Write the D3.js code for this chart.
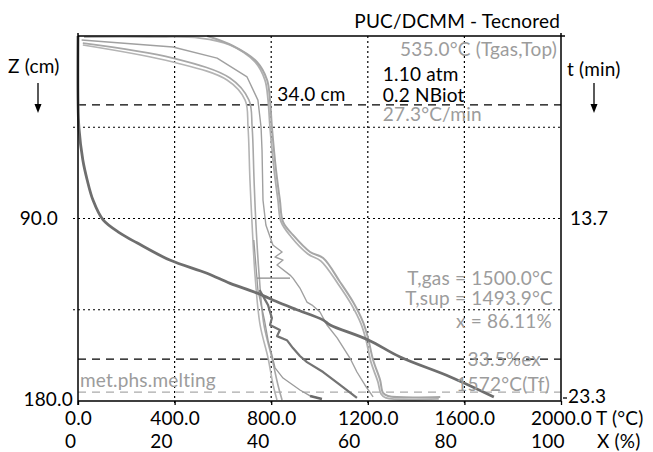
<!DOCTYPE html>
<html>
<head>
<meta charset="utf-8">
<script src="https://cdn.jsdelivr.net/npm/d3@7"></script>
<style>
body { margin: 0; background: #fff; }
svg { font-family: Lato, "Open Sans", sans-serif; }
.grid { stroke: #000; stroke-width: 1.2; stroke-dasharray: 2,3; fill: none; }
.dash { stroke: #000; stroke-width: 1.3; stroke-dasharray: 8,6; fill: none; }
.dash-gray { stroke: #aaa; stroke-width: 1.3; stroke-dasharray: 8,6; fill: none; }
.frame { stroke: #000; stroke-width: 1.5; fill: none; }
.lbl { font-size: 19px; fill: #000; letter-spacing: 0.2px; }
.lbl-gray { font-size: 19px; fill: #9c9c9c; letter-spacing: 0.2px; }
.axis text { font-size: 19px; fill: #000; font-family: Lato, "Open Sans", sans-serif; letter-spacing: 0.2px; }
.axis line { stroke: #000; stroke-width: 1.3; }
.axis .domain { display: none; }
</style>
</head>
<body>
<div id="chart"></div>
<script>

// ticks
var tempTicks = [0, 400, 800, 1200, 1600, 2000]
var convTicks = [0, 20, 40, 60, 80, 100]
var depthTicks = [90, 180]
var timeLabels = ['13.7', '23.3']
var gridDepths = [45, 90, 135]
var markDepths = [34.0, 159.3]
var meltDepth = 175.6

// temperature profiles, t in °C, z in cm
var gasProfile = [
  {t: 535, z: 0}, {t: 642, z: 4.9}, {t: 741, z: 12.8}, {t: 783, z: 21.7}, {t: 795, z: 31.6},
  {t: 803, z: 44.9}, {t: 820, z: 66.1}, {t: 836, z: 80.9}, {t: 849, z: 91.7}, {t: 890, z: 98.1},
  {t: 961, z: 106.5}, {t: 1015, z: 109.5}, {t: 1085, z: 121.3}, {t: 1139, z: 131.2}, {t: 1180, z: 141},
  {t: 1201, z: 149}, {t: 1222, z: 159.8}, {t: 1251, z: 169.7}, {t: 1263, z: 176}, {t: 1284, z: 177.5},
  {t: 1500, z: 178}
]
var supProfile = [
  {t: 25, z: 0.5}, {t: 298, z: 0.5}, {t: 505, z: 1}, {t: 629, z: 4.4}, {t: 733, z: 12.8},
  {t: 774, z: 21.7}, {t: 787, z: 31.6}, {t: 795, z: 44.9}, {t: 812, z: 66}, {t: 828, z: 81},
  {t: 841, z: 91.7}, {t: 882, z: 99}, {t: 952, z: 107.5}, {t: 1006, z: 111}, {t: 1077, z: 122.3},
  {t: 1130, z: 132}, {t: 1172, z: 142}, {t: 1193, z: 150}, {t: 1213, z: 160.8}, {t: 1242, z: 170.6},
  {t: 1255, z: 176.6}, {t: 1275, z: 178.5}, {t: 1494, z: 179}
]
var coreProfileA = [
  {t: 20, z: 4.4}, {t: 393, z: 12.8}, {t: 617, z: 21.7}, {t: 692, z: 31.6}, {t: 704, z: 44.9},
  {t: 712, z: 71}, {t: 721, z: 93.2}, {t: 733, z: 117.9}, {t: 754, z: 142.5}, {t: 787, z: 158.8},
  {t: 808, z: 172.1}, {t: 824, z: 179.5}
]
var coreProfileB = [
  {t: 20, z: 3.5}, {t: 393, z: 10.9}, {t: 629, z: 20.7}, {t: 708, z: 31.6}, {t: 721, z: 44.9},
  {t: 729, z: 71}, {t: 737, z: 93.2}, {t: 750, z: 117.9}, {t: 770, z: 142.5}, {t: 803, z: 158.8},
  {t: 828, z: 172.1}, {t: 845, z: 179.5}
]
var shellProfile = [
  {t: 15, z: 2}, {t: 393, z: 5.4}, {t: 576, z: 10.9}, {t: 700, z: 20.2}, {t: 745, z: 31.6},
  {t: 758, z: 44.9}, {t: 762, z: 56.2}, {t: 766, z: 80.9}, {t: 778, z: 93.2}, {t: 807, z: 103.1},
  {t: 845, z: 106.5}, {t: 816, z: 109}, {t: 849, z: 110.5}, {t: 824, z: 112.9}, {t: 878, z: 117.9},
  {t: 890, z: 119.4}, {t: 919, z: 124.3}, {t: 948, z: 131.2}, {t: 969, z: 132.7}, {t: 1002, z: 136.1},
  {t: 1031, z: 142.5}, {t: 1073, z: 148.9}, {t: 1126, z: 158.8}, {t: 1155, z: 165.7}, {t: 1188, z: 172.1},
  {t: 1222, z: 178}
]
var slagProfile = [
  {t: 752, z: 125.3}, {t: 787, z: 132.7}, {t: 803, z: 139.1}, {t: 795, z: 142.5},
  {t: 836, z: 145}, {t: 824, z: 148}, {t: 865, z: 150}, {t: 890, z: 153.9}, {t: 919, z: 157.8},
  {t: 948, z: 160.8}, {t: 1015, z: 165.7}, {t: 1085, z: 172.1}, {t: 1155, z: 178.5}
]
var metalProfile = [
  {t: 728, z: 100.6}, {t: 745, z: 125.3}, {t: 772, z: 140}, {t: 787, z: 150}, {t: 803, z: 157.3},
  {t: 816, z: 163.7}, {t: 849, z: 168.7}, {t: 919, z: 174.6}, {t: 961, z: 177.5}, {t: 1010, z: 179}
]
var metalTail = [{t: 961, z: 177.5}, {t: 1010, z: 179}]
var stepProfile = [{t: 741, z: 119.4}, {t: 878, z: 119.4}]

// conversion, x in %, z in cm
var conversion = [
  {x: 0, z: 0}, {x: 0, z: 31.6}, {x: 0.2, z: 45.4}, {x: 1, z: 61.2}, {x: 1.9, z: 71},
  {x: 3.1, z: 80.9}, {x: 5.2, z: 90.7}, {x: 8.7, z: 97.2}, {x: 12.2, z: 102}, {x: 19, z: 110.5},
  {x: 26.7, z: 117}, {x: 31.5, z: 122}, {x: 37, z: 126.7}, {x: 41.8, z: 131.7}, {x: 45.3, z: 135},
  {x: 50.7, z: 140}, {x: 52.2, z: 142.5}, {x: 60.2, z: 150}, {x: 66.7, z: 158.3}, {x: 77, z: 168},
  {x: 86.1, z: 178}
]

var Chart = function(opts) {
    this.element = opts.element
    this.width = 653
    this.height = 452
    this.margin = {left: 78, top: 36, right: 92, bottom: 51}
    this.draw()
}

Chart.prototype.draw = function() {
    var sel = d3.select(this.element)
    sel.html('')
    this.svg = sel.append('svg').attr('width', this.width).attr('height', this.height)
    this.createScales()
    this.addGrid()
    this.addLines()
    this.addFrame()
    this.addAxes()
    this.addLabels()
}

//////////
// Axes //
//////////
Chart.prototype.createScales = function() {
    var m = this.margin
    this.x0 = m.left
    this.x1 = this.width - m.right
    this.y0 = m.top
    this.y1 = this.height - m.bottom
    this.x = d3.scaleLinear().domain([0, 2000]).range([this.x0, this.x1])
    this.xc = d3.scaleLinear().domain([0, 100]).range([this.x0, this.x1])
    this.y = d3.scaleLinear().domain([0, 180]).range([this.y0, this.y1])
}

Chart.prototype.addGrid = function() {
    var self = this
    var svg = this.svg

    svg.selectAll('line.gx').data(tempTicks.slice(1, -1)).enter().append('line')
      .attr('class', 'grid')
      .attr('x1', function(d) { return self.x(d) }).attr('x2', function(d) { return self.x(d) })
      .attr('y1', self.y0).attr('y2', self.y1 + 4)

    svg.selectAll('line.gy').data(gridDepths).enter().append('line')
      .attr('class', 'grid')
      .attr('x1', self.x0 - 5).attr('x2', self.x1)
      .attr('y1', function(d) { return self.y(d) }).attr('y2', function(d) { return self.y(d) })

    svg.selectAll('line.mark').data(markDepths).enter().append('line')
      .attr('class', 'dash')
      .attr('x1', self.x0).attr('x2', self.x1)
      .attr('y1', function(d) { return self.y(d) }).attr('y2', function(d) { return self.y(d) })

    svg.append('line').attr('class', 'dash-gray')
      .attr('x1', self.x0).attr('x2', self.x1)
      .attr('y1', self.y(meltDepth)).attr('y2', self.y(meltDepth))
}

Chart.prototype.addLines = function() {
    var self = this
    var svg = this.svg
    var smooth = d3.line().x(function(d) { return self.x(d.t) }).y(function(d) { return self.y(d.z) })
      .curve(d3.curveCatmullRom.alpha(0.5))
    var sharp = d3.line().x(function(d) { return self.x(d.t) }).y(function(d) { return self.y(d.z) })
    var conv = d3.line().x(function(d) { return self.xc(d.x) }).y(function(d) { return self.y(d.z) })
      .curve(d3.curveCatmullRom.alpha(0.5))

    var draw = function(gen, data, color, w) {
        svg.append('path').attr('d', gen(data))
          .attr('fill', 'none').attr('stroke', color).attr('stroke-width', w)
          .attr('stroke-linejoin', 'round')
    }

    draw(smooth, coreProfileA, '#b4b4b4', 1.6)
    draw(smooth, coreProfileB, '#a8a8a8', 1.6)
    draw(sharp, shellProfile, '#a0a0a0', 1.4)
    draw(sharp, metalProfile, '#9a9a9a', 1.3)
    draw(sharp, metalTail, '#6a6a6a', 2.5)
    draw(sharp, slagProfile, '#737373', 2.2)
    draw(sharp, stepProfile, '#8a8a8a', 1.4)
    draw(smooth, supProfile, '#b0b0b0', 1.8)
    draw(smooth, gasProfile, '#a6a6a6', 2)
    draw(conv, conversion, '#6e6e6e', 2.8)
}

Chart.prototype.addFrame = function() {
    var self = this
    this.svg.append('path').attr('class', 'frame')
      .attr('d', 'M' + self.x0 + ',' + (self.y0 - 3) + 'V' + (self.y1 + 4)
        + 'M' + self.x0 + ',' + self.y0 + 'H' + (self.x1 + 4)
        + 'M' + self.x1 + ',' + (self.y0 - 3) + 'V' + self.y1
        + 'M' + self.x0 + ',' + self.y1 + 'H' + self.x1)
}

Chart.prototype.addAxes = function() {
    var self = this
    var svg = this.svg

    var xAxis = svg.append('g').attr('class', 'axis')
      .attr('transform', 'translate(0,' + self.y1 + ')')
      .call(d3.axisBottom(self.x).tickValues(tempTicks).tickFormat(d3.format('.1f')).tickSize(4).tickPadding(7))

    // second row sits left-aligned under the first one
    var widths = []
    xAxis.selectAll('text').each(function() { widths.push(this.getComputedTextLength()) })
    var cAxis = svg.append('g').attr('class', 'axis')
      .attr('transform', 'translate(0,' + self.y1 + ')')
      .call(d3.axisBottom(self.xc).tickValues(convTicks).tickSize(0).tickPadding(34))
    cAxis.selectAll('text').attr('text-anchor', 'start')
      .attr('dx', function(d, i) { return -widths[i] / 2 })

    var yAxis = svg.append('g').attr('class', 'axis')
      .attr('transform', 'translate(' + self.x0 + ',0)')
      .call(d3.axisLeft(self.y).tickValues(depthTicks).tickFormat(d3.format('.1f')).tickSize(0).tickPadding(20))
    yAxis.selectAll('text').filter(function(d) { return d == 180 })
      .attr('x', -5).attr('dy', '0.22em')

    var tAxis = svg.append('g').attr('class', 'axis')
      .attr('transform', 'translate(' + self.x1 + ',0)')
      .call(d3.axisRight(self.y).tickValues(depthTicks)
        .tickFormat(function(d, i) { return timeLabels[i] }).tickSize(0).tickPadding(9))
    tAxis.selectAll('text').filter(function(d) { return d == 180 })
      .attr('x', 7).attr('dy', '0.07em')
    tAxis.append('line').attr('x1', 2).attr('x2', 6)
      .attr('y1', self.y(180) - 3).attr('y2', self.y(180) - 3)

    svg.append('text').attr('class', 'lbl').attr('x', self.x1 + 35).attr('y', self.y1 + 24).text('T (°C)')
    svg.append('text').attr('class', 'lbl').attr('x', self.x1 + 36).attr('y', self.y1 + 47).text('X (%)')
}

////////////
// Labels //
////////////
Chart.prototype.addLabels = function() {
    var self = this
    var svg = this.svg
    var txt = function(cls, x, y, s, anchor) {
        return svg.append('text').attr('class', cls).attr('x', x).attr('y', y)
          .attr('text-anchor', anchor || 'start').text(s)
    }

    txt('lbl', self.x1 - 1, 28, 'PUC/DCMM - Tecnored', 'end')
    txt('lbl', 8, 73, 'Z (cm)')
    txt('lbl', self.x1 + 6, 76, 't (min)')

    var arrow = function(cx) {
        svg.append('line').attr('x1', cx).attr('x2', cx).attr('y1', 83).attr('y2', 106)
          .attr('stroke', '#000').attr('stroke-width', 1.3)
        svg.append('path').attr('d', 'M' + (cx - 3.5) + ',104L' + (cx + 3.5) + ',104L' + cx + ',113Z')
          .attr('fill', '#000')
    }
    arrow(38)
    arrow(594)

    txt('lbl', self.x(800) + 6, self.y(34) - 4, '34.0 cm')
    txt('lbl-gray', self.x1 - 4, 56, '535.0°C (Tgas,Top)', 'end')
    txt('lbl', self.x(1200) + 15, 81, '1.10 atm')
    txt('lbl', self.x(1200) + 15, 102, '0.2 NBiot')
    txt('lbl-gray', self.x(1200) + 15, 121, '27.3°C/min')

    txt('lbl-gray', self.x1 - 8, 285, 'T,gas = 1500.0°C', 'end')
    txt('lbl-gray', self.x1 - 8, 305, 'T,sup = 1493.9°C', 'end')
    txt('lbl-gray', self.x1 - 9, 328, 'x = 86.11%', 'end')
    txt('lbl-gray', self.x1 - 20, 366, '33.5%ex', 'end')
    txt('lbl-gray', self.x1 - 11, 391, '1572°C(Tf)', 'end')
    txt('lbl-gray', self.x0 + 2, 387, 'met.phs.melting')
}

new Chart({element: '#chart'})
</script>
</body>
</html>
